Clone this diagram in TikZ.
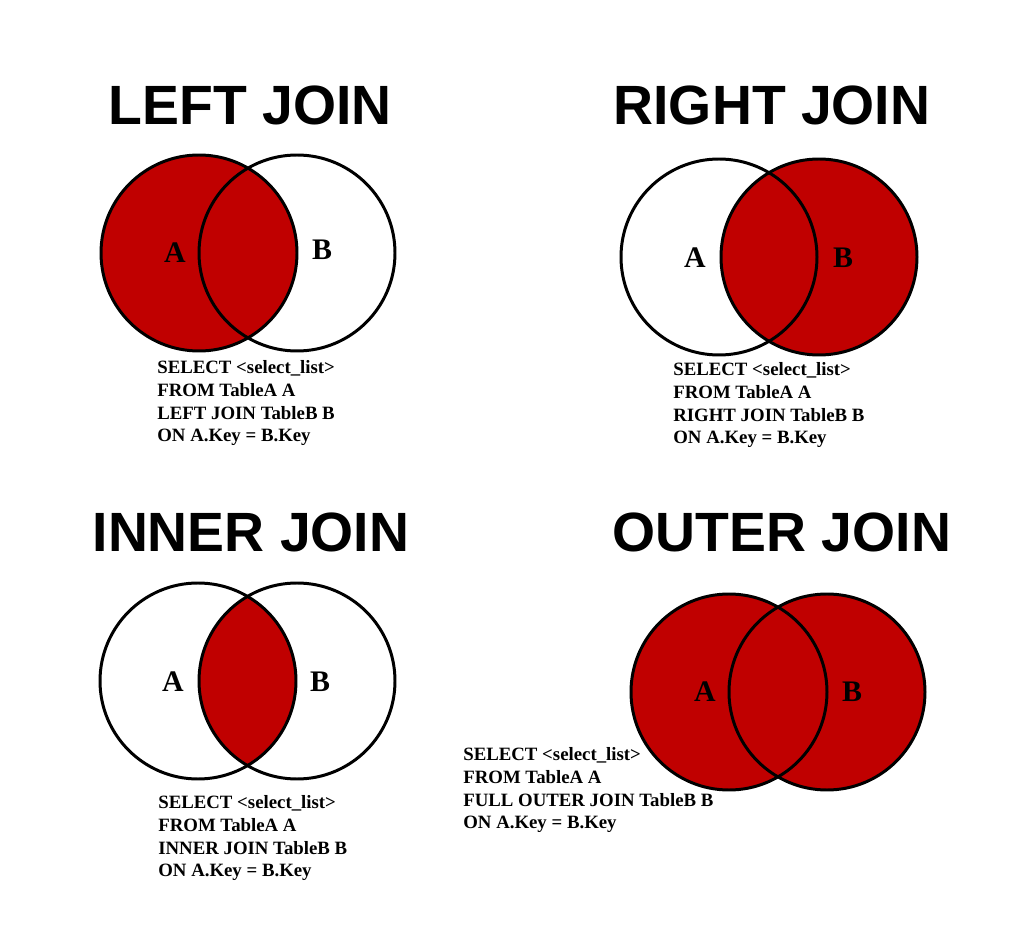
\documentclass[tikz,border=0pt]{standalone}
\usepackage{fontspec}
\setmainfont{Liberation Serif}
\newfontfamily\headfont{Liberation Sans}
\definecolor{joinred}{RGB}{192,0,0}
\newcommand{\vennr}{98}

\begin{document}
\begin{tikzpicture}[x=0.02cm, y=-0.02cm,
    venn/.style={draw=black, line width=1.7pt},
    heading/.style={font=\headfont\bfseries\fontsize{31.5}{36}\selectfont, anchor=base, inner sep=0pt},
    setname/.style={font=\bfseries\fontsize{17}{20}\selectfont, inner sep=0pt},
    sqltext/.style={font=\bfseries\fontsize{10.7}{13}\selectfont, align=left, anchor=north west, inner sep=0pt}]

\useasboundingbox[fill=white] (0,0) rectangle (1032,932);

% titles
\node[heading] (lefttitle)  at (250,125) {LEFT JOIN};
\node[heading] (righttitle) at (772,125) {RIGHT JOIN};
\node[heading] (innertitle) at (251,552) {INNER JOIN};
\node[heading] (outertitle) at (782,552) {OUTER JOIN};

% left join
\coordinate (la) at (199,253);
\coordinate (lb) at (297,253);
\fill[joinred] (la) circle (\vennr);
\draw[venn] (la) circle (\vennr);
\draw[venn] (lb) circle (\vennr);
\node[setname] (lalabel) at (175,253) {A};
\node[setname] (lblabel) at (322,250) {B};
\node[sqltext] (leftsql) at (157,360) {SELECT <select\_list>\\FROM TableA A\\LEFT JOIN TableB B\\ON A.Key = B.Key};

% right join
\coordinate (ra) at (719,257);
\coordinate (rb) at (819,257);
\fill[joinred] (rb) circle (\vennr);
\draw[venn] (ra) circle (\vennr);
\draw[venn] (rb) circle (\vennr);
\node[setname] (ralabel) at (695,258) {A};
\node[setname] (rblabel) at (843,258) {B};
\node[sqltext] (rightsql) at (673,362) {SELECT <select\_list>\\FROM TableA A\\RIGHT JOIN TableB B\\ON A.Key = B.Key};

% inner join
\coordinate (ia) at (198,681);
\coordinate (ib) at (297,681);
\begin{scope}
  \clip (ia) circle (\vennr);
  \fill[joinred] (ib) circle (\vennr);
\end{scope}
\draw[venn] (ia) circle (\vennr);
\draw[venn] (ib) circle (\vennr);
\node[setname] (ialabel) at (173,682) {A};
\node[setname] (iblabel) at (320,682) {B};
\node[sqltext] (innersql) at (158,795) {SELECT <select\_list>\\FROM TableA A\\INNER JOIN TableB B\\ON A.Key = B.Key};

% outer join
\coordinate (oa) at (729,692);
\coordinate (ob) at (827,692);
\fill[joinred] (oa) circle (\vennr);
\fill[joinred] (ob) circle (\vennr);
\draw[venn] (oa) circle (\vennr);
\draw[venn] (ob) circle (\vennr);
\node[setname] (oalabel) at (705,692) {A};
\node[setname] (oblabel) at (852,692) {B};
\node[sqltext] (outersql) at (463,747) {SELECT <select\_list>\\FROM TableA A\\FULL OUTER JOIN TableB B\\ON A.Key = B.Key};

\end{tikzpicture}
\end{document}
